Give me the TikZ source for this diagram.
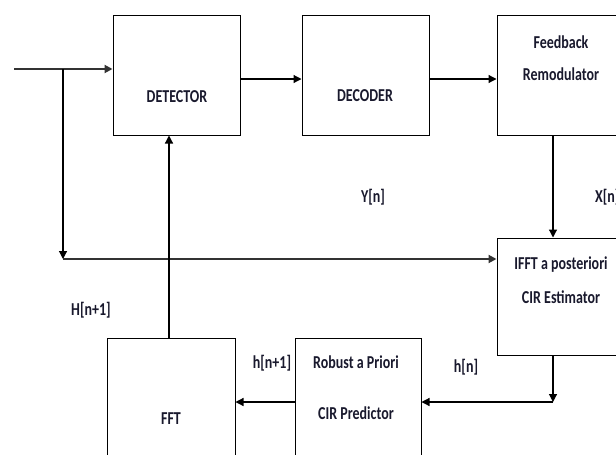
\documentclass[tikz,border=0pt]{standalone}
\usepackage{fontspec}
\setmainfont{Carlito}
\usetikzlibrary{arrows.meta}
\definecolor{ink}{RGB}{25,25,45}
\newcommand{\tallt}[1]{\scalebox{1}[1.3]{#1}}
\begin{document}
\begin{tikzpicture}[x=1pt,y=-1pt,
  blk/.style={draw=black,line width=1pt,inner sep=0pt},
  arr/.style={draw=black,line width=1.2pt,-{Triangle[length=8pt,width=8pt]}},
  gline/.style={draw=black!80,line width=2pt},
  txt/.style={font=\fontsize{14}{16}\selectfont\bfseries,text=ink,inner sep=0pt}]
\useasboundingbox (0,0) rectangle (616,455);
\clip (0,0) rectangle (616,455);
% boxes
\node[blk,minimum width=127pt,minimum height=120pt] (det) at (176.5,75) {};
\node[blk,minimum width=127pt,minimum height=120pt] (dec) at (365.5,75) {};
\node[blk,minimum width=128pt,minimum height=120pt] (fb) at (561,75) {};
\node[blk,minimum width=128pt,minimum height=117pt] (ifft) at (561,296.5) {};
\node[blk,minimum width=126pt,minimum height=132pt] (pred) at (358,404) {};
\node[blk,minimum width=128pt,minimum height=132pt] (fft) at (171,404) {};
% box texts
\node[txt] (tdet) at (177,97) {\tallt{DETECTOR}};
\node[txt] (tdec) at (365,96) {\tallt{DECODER}};
\node[txt] (tfb1) at (561,42) {\tallt{Feedback}};
\node[txt] (tfb2) at (561,74) {\tallt{Remodulator}};
\node[txt] (tif1) at (561,265) {\tallt{IFFT a posteriori}};
\node[txt] (tif2) at (561,297) {\tallt{CIR Estimator}};
\node[txt] (tpr1) at (356,362) {\tallt{Robust a Priori}};
\begin{scope}
\clip (280,330) rectangle (440,420);
\node[txt] (tpr2) at (356,413) {\tallt{CIR Predictor}};
\end{scope}
\node[txt] (tfft) at (171,419) {\tallt{FFT}};
% labels
\node[txt] (ly) at (373,197) {\tallt{Y[n]}};
\node[txt,anchor=west] (lx) at (595,197) {\tallt{X[n]}};
\node[txt] (lH) at (91,310) {\tallt{H[n+1]}};
\node[txt] (lh1) at (272,363) {\tallt{h[n+1]}};
\node[txt] (lh) at (466,367) {\tallt{h[n]}};
% connectors
\coordinate (in) at (14,69);
\coordinate (br) at (63,69);
\coordinate (bend) at (63,259);
\coordinate (hn) at (553,402);
\draw[gline] (in) -- (br);
\draw[gline,-{Triangle[length=8pt,width=8pt]}] (br) -- (det.west |- in);
\draw[arr] (br) -- (bend);
\draw[gline,-{Triangle[length=8pt,width=8pt]}] (bend) -- (ifft.west |- bend);
\draw[arr] ([yshift=-4pt]det.east) -- ([yshift=-4pt]dec.west);
\draw[arr] ([yshift=-4pt]dec.east) -- ([yshift=-4pt]fb.west);
\draw[arr] ([xshift=-8pt]fb.south) -- ([xshift=-8pt]ifft.north);
\draw[arr] ([xshift=-8pt]ifft.south) -- (hn);
\draw[arr] (hn) -- (pred.east |- hn);
\draw[arr] (pred.west |- hn) -- (fft.east |- hn);
\draw[arr] ([xshift=-2pt]fft.north) -- ([xshift=-2pt]fft.north |- det.south);
\end{tikzpicture}
\end{document}
